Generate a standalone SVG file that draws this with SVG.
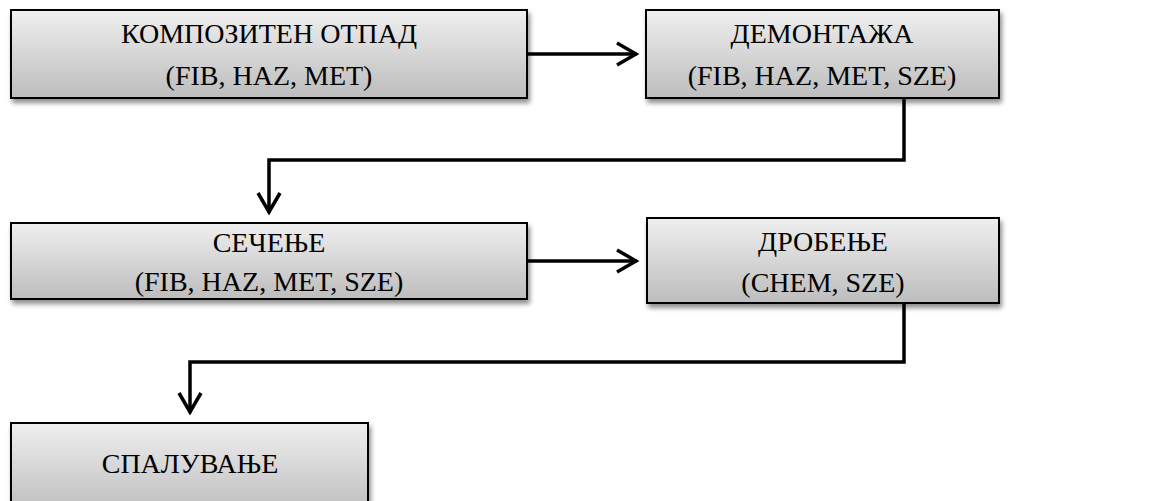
<svg xmlns="http://www.w3.org/2000/svg" width="1150" height="501" viewBox="0 0 1150 501">
<style>
.box{fill:url(#g);stroke:#000;stroke-width:2;filter:url(#sh)}
.t{font-family:'Liberation Serif',Tinos,'Noto Serif','DejaVu Serif',FreeSerif,Georgia,serif;font-size:28px;fill:#000;text-anchor:middle}
.c{fill:none;stroke:#000;stroke-width:3.5}
</style>
<defs>
<linearGradient id="g" x1="0" y1="0" x2="0" y2="1">
<stop offset="0" stop-color="#efefef"/>
<stop offset="1" stop-color="#bdbdbd"/>
</linearGradient>
<filter id="sh" x="-5%" y="-10%" width="115%" height="140%">
<feGaussianBlur in="SourceAlpha" stdDeviation="2.5"/>
<feOffset dx="2" dy="4" result="b"/>
<feComponentTransfer><feFuncA type="linear" slope="0.45"/></feComponentTransfer>
<feMerge><feMergeNode/><feMergeNode in="SourceGraphic"/></feMerge>
</filter>
<marker id="ah" markerUnits="userSpaceOnUse" markerWidth="30" markerHeight="30" refX="22" refY="12" orient="auto" viewBox="0 0 30 24">
<path d="M2,1 L21,12 L2,23" fill="none" stroke="#000" stroke-width="3.5"/>
</marker>
</defs>
<g id="connectors">
<path class="c" d="M527,54 H637" marker-end="url(#ah)"/>
<path class="c" d="M904,98 V160 H269 V213" marker-end="url(#ah)"/>
<path class="c" d="M527,261 H637" marker-end="url(#ah)"/>
<path class="c" d="M904,303 V362 H190 V413" marker-end="url(#ah)"/>
</g>
<g id="n1">
<rect class="box" x="11" y="10" width="516" height="88"/>
<text class="t" x="269" y="43">КОМПОЗИТЕН ОТПАД</text>
<text class="t" x="269" y="85">(FIB, HAZ, MET)</text>
</g>
<g id="n2">
<rect class="box" x="646" y="10" width="353" height="88"/>
<text class="t" x="822" y="43">ДЕМОНТАЖА</text>
<text class="t" x="822" y="85">(FIB, HAZ, MET, SZE)</text>
</g>
<g id="n3">
<rect class="box" x="11" y="223" width="516" height="76"/>
<text class="t" x="269" y="252">СЕЧЕЊЕ</text>
<text class="t" x="269" y="291">(FIB, HAZ, MET, SZE)</text>
</g>
<g id="n4">
<rect class="box" x="647" y="218" width="352" height="85"/>
<text class="t" x="823" y="251">ДРОБЕЊЕ</text>
<text class="t" x="823" y="292">(CHEM, SZE)</text>
</g>
<g id="n5">
<rect class="box" x="11" y="423" width="357" height="90"/>
<text class="t" x="190" y="473">СПАЛУВАЊЕ</text>
</g>
</svg>
